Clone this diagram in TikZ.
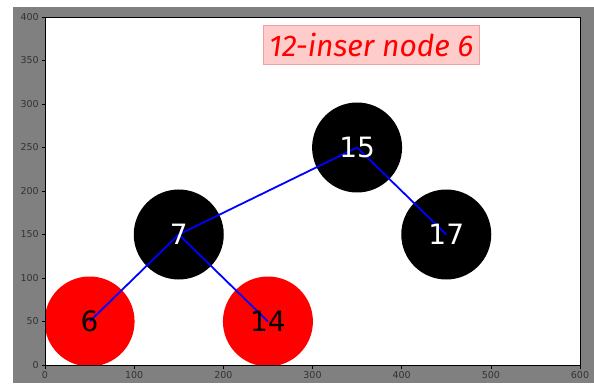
\documentclass[tikz,border=0pt]{standalone}
\usepackage{fontspec}
\setmainfont{DejaVu Sans}
\newfontfamily\notefont{Fira Sans}
\usetikzlibrary{arrows.meta}
\definecolor{plotgrey}{RGB}{128,128,128}
\definecolor{treeblue}{RGB}{0,0,255}
\definecolor{treered}{RGB}{255,0,0}
\definecolor{notepink}{RGB}{255,204,204}
\definecolor{noteedge}{RGB}{240,160,160}

\begin{document}
\begin{tikzpicture}[x=1pt,y=1pt,line cap=butt,
  rbnode/.style={circle,minimum size=90pt,inner sep=0pt},
  blacknode/.style={rbnode,fill=black},
  rednode/.style={rbnode,fill=treered},
  keytext/.style={font=\fontsize{28}{28}\selectfont,inner sep=0pt},
  treeedge/.style={treeblue,line width=1.8pt},
  ticklabel/.style={font=\fontsize{9.5}{9.5}\selectfont,text=black!80,inner sep=2.5pt}]
% Tlo figury i biale pole osi
\useasboundingbox (0,0) rectangle (594,383);
\fill[white] (0,0) rectangle (594,383);
\fill[plotgrey] (13,0) rectangle (594,376);
\fill[white] (45,18) rectangle (580,366);
\begin{scope}[shift={(45,18)},x=0.8917pt,y=0.87pt]
% Wezly drzewa czerwono-czarnego
\begin{scope}
\clip (0,0) rectangle (600,400);
\node[blacknode] (n15) at (350,250) {};
\node[blacknode] (n7) at (150,150) {};
\node[blacknode] (n17) at (450,150) {};
\node[rednode] (n6) at (50,50) {};
\node[rednode] (n14) at (250,50) {};
\draw[treeedge] (n15.center) -- (n7.center);
\draw[treeedge] (n15.center) -- (n17.center);
\draw[treeedge] (n7.center) -- (n6.center);
\draw[treeedge] (n7.center) -- (n14.center);
\end{scope}
\node[keytext,white] (k15) at (n15) {15};
\node[keytext,white] (k7) at (n7) {7};
\node[keytext,white] (k17) at (n17) {17};
\node[keytext,black] (k6) at (n6) {6};
\node[keytext,black] (k14) at (n14) {14};
% Ramka osi z podzialka
\draw[black,line width=0.8pt] (0,0) rectangle (600,400);
\foreach \x in {0,100,...,600}
  \draw[line width=0.6pt] (\x,0) -- ++(0,-3.5pt) node[below,ticklabel] {\x};
\foreach \y in {0,50,...,400}
  \draw[line width=0.6pt] (0,\y) -- ++(-3.5pt,0) node[left,ticklabel] {\y};
% Podpis kroku
\node[fill=notepink,draw=noteedge,line width=0.6pt,text=treered,
  font=\notefont\itshape\fontsize{30}{30}\selectfont,
  minimum height=39pt,inner xsep=6pt] (step) at (366,368) {12-inser node 6};
\end{scope}
\end{tikzpicture}
\end{document}
